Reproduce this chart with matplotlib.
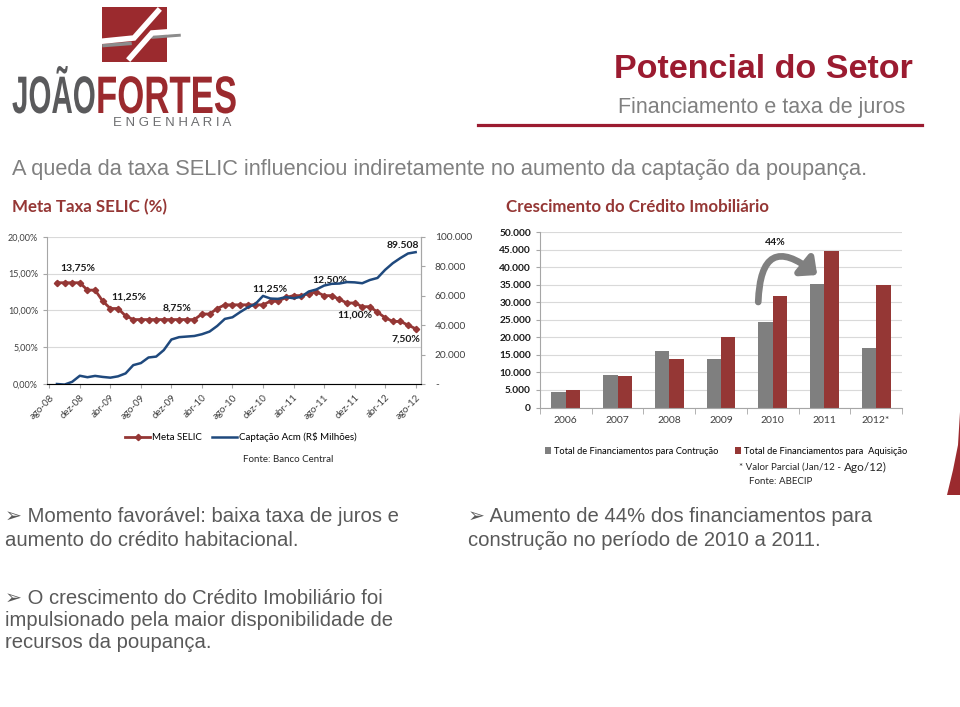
import numpy as np
import matplotlib
matplotlib.use("Agg")
import matplotlib.pyplot as plt
from matplotlib.lines import Line2D
from matplotlib.patches import Rectangle, Polygon
from matplotlib.patheffects import AbstractPathEffect
from matplotlib.transforms import Affine2D
from matplotlib.ticker import FuncFormatter

# ---------- Data ---------- #
tick_labels = ['ago-08', 'dez-08', 'abr-09', 'ago-09', 'dez-09', 'abr-10', 'ago-10',
               'dez-10', 'abr-11', 'ago-11', 'dez-11', 'abr-12', 'ago-12']
months = np.arange(1, 49)   # set-08 ... ago-12 (0 = ago-08)

selic = [13.75, 13.75, 13.75, 13.75, 12.75, 12.75, 11.25, 10.25, 10.25, 9.25,
         8.75, 8.75, 8.75, 8.75, 8.75, 8.75, 8.75, 8.75, 8.75, 9.50,
         9.50, 10.25, 10.75, 10.75, 10.75, 10.75, 10.75, 10.75, 11.25, 11.25,
         11.75, 12.00, 12.00, 12.25, 12.50, 12.00, 12.00, 11.50, 11.00, 11.00,
         10.50, 10.50, 9.75, 9.00, 8.50, 8.50, 8.00, 7.50]

captacao = [0, -400, 1500, 5600, 4600, 5500, 4800, 4300, 5200, 7200,
            12800, 14200, 18000, 18600, 23000, 30200, 31800, 32200, 32600, 33800,
            35600, 39400, 44200, 45300, 48800, 52000, 54300, 59800, 58000, 57800,
            59000, 58200, 59200, 62800, 64200, 66800, 68000, 68200, 69200, 69000,
            68400, 70600, 72000, 77500, 82000, 85500, 88600, 89508]

selic_labels = ['13,75%', '11,25%', '8,75%', '11,25%', '12,50%', '11,00%', '7,50%', '89.508']

anos = ['2006', '2007', '2008', '2009', '2010', '2011', '2012*']
construcao = [4400, 9200, 16200, 13800, 24500, 35300, 16900]
aquisicao = [4900, 8900, 13800, 20100, 31800, 44800, 34900]

# ---------- Styles ---------- #
W, H = 960, 707
RED = '#953735'
BLUE = '#1F497D'
GRAY = '#7F7F7F'
CRIMSON = '#9B1B30'
plt.rcParams['font.family'] = ['Lato', 'DejaVu Sans']
SANS = ['Liberation Sans', 'DejaVu Sans']


def fx(x):
    return x / W


def fy(y):
    return 1 - y / H


class Stretch(AbstractPathEffect):
    """Scale the glyphs of a text around its origin (logo lettering)"""
    def __init__(self, sx, sy):
        super().__init__()
        self.sx, self.sy = sx, sy

    def draw_path(self, renderer, gc, tpath, affine, rgbFace=None):
        m = affine.get_matrix()
        tx, ty = m[0, 2], m[1, 2]
        aff = affine + Affine2D().translate(-tx, -ty).scale(self.sx, self.sy).translate(tx, ty)
        renderer.draw_path(gc, tpath, aff, rgbFace)


fig = plt.figure(figsize=(9.6, 7.07), dpi=100)

# ---------- Logo ---------- #
fig.add_artist(Rectangle((fx(102), fy(62)), 65 / W, 55 / H, transform=fig.transFigure,
                         color='#9B2A2E', lw=0))
for xs, ys, c, w in [([104, 130], [45.5, 43.5], '#8C8C8C', 2.5), ([153, 179], [37, 35], '#8C8C8C', 2.5),
                     ([158, 134, 104], [11, 38, 41], 'white', 4), ([179, 152, 130], [31, 33, 58], 'white', 4)]:
    fig.add_artist(Line2D([fx(v) for v in xs], [fy(v) for v in ys], lw=w, color=c,
                          transform=fig.transFigure, solid_joinstyle='miter'))
t = fig.text(fx(12), fy(113), 'JOÃO', fontsize=8, weight='bold', color='#5A5A5C', family=SANS)
t.set_path_effects([Stretch(2.66, 4.75)])
t = fig.text(fx(96), fy(113), 'FORTES', fontsize=8, weight='bold', color='#9B2A2E', family=SANS)
t.set_path_effects([Stretch(3.13, 4.75)])
fig.text(fx(172), fy(123.5), 'E N G E N H A R I A', fontsize=9.5, color='#6D6E70', family=SANS,
         ha='center', va='center')

# ---------- Header ---------- #
fig.text(fx(913), fy(69), 'Potencial do Setor', fontsize=24.5, weight='bold', color=CRIMSON,
         family=SANS, ha='right', va='center')
fig.text(fx(905), fy(108), 'Financiamento e taxa de juros', fontsize=15.5, color='#808080',
         family=SANS, ha='right', va='center')
fig.add_artist(Line2D([fx(478), fx(922)], [fy(125), fy(125)], lw=2.3, color=CRIMSON,
                      transform=fig.transFigure))
fig.text(fx(12), fy(170), 'A queda da taxa SELIC influenciou indiretamente no aumento da captação da poupança.',
         fontsize=15.7, color='#808080', family=SANS, va='center')

# ---------- Left chart: SELIC ---------- #
fig.text(fx(12), fy(207), 'Meta Taxa SELIC (%)', fontsize=12.2, weight='bold', color=RED, va='center')

ax1 = fig.add_axes([fx(47), fy(384), 374 / W, 147.3 / H])
ax1.set_xlim(-0.3, 48.7)
ax1.set_ylim(0, 20)
ax1.set_yticks([0, 5, 10, 15, 20])
ax1.yaxis.set_major_formatter(FuncFormatter(lambda v, p: f'{v:.2f}%'.replace('.', ',')))
ax1.set_xticks(np.arange(0, 49, 4))
ax1.set_xticklabels(tick_labels, rotation=45, ha='right', rotation_mode='anchor')
ax1.grid(axis='y', color='#D9D9D9', lw=0.8)
ax1.set_axisbelow(True)
for s in ['left', 'bottom', 'right']:
    ax1.spines[s].set_color('#A6A6A6')
ax1.spines['top'].set_visible(False)
ax1.tick_params(axis='both', colors='#A6A6A6', length=3, labelcolor='#404040', labelsize=6.5)
ax1.tick_params(axis='x', labelsize=7)
l1, = ax1.plot(months, selic, color=RED, lw=2, marker='D', ms=3.2, label='Meta SELIC')

ax2 = ax1.twinx()
ax2.set_ylim(0, 100000)
ax2.set_yticks(np.arange(0, 100001, 20000))
ax2.yaxis.set_major_formatter(FuncFormatter(lambda v, p: '-' if v == 0 else f'{v:,.0f}'.replace(',', '.')))
ax2.spines['top'].set_visible(False)
ax2.spines['right'].set_color('#A6A6A6')
ax2.spines['left'].set_visible(False)
ax2.tick_params(axis='y', colors='#A6A6A6', length=3, labelcolor='#404040', labelsize=7.3, pad=7)
l2, = ax2.plot(months, captacao, color=BLUE, lw=1.8, label='Captação Acm (R$ Milhões)')

label_pos = [(3.76, 15.75), (10.44, 11.81), (16.73, 10.32), (28.9, 12.9),
             (36.78, 14.12), (40.05, 9.37), (46.73, 6.11), (46.34, 18.87)]
for txt, (x, y) in zip(selic_labels, label_pos):
    ax1.text(x, y, txt, fontsize=7.5, weight='bold', color='#1A1A1A', ha='center', va='center',
             zorder=5)

fig.legend(handles=[l1, l2], loc='center', bbox_to_anchor=(fx(241), fy(437)), ncol=2,
           frameon=False, fontsize=7, handlelength=2.6, columnspacing=1.0, handletextpad=0.2)
fig.text(fx(288), fy(459), 'Fonte: Banco Central', fontsize=7, color='#262626', ha='center', va='center')

# ---------- Right chart: Credito Imobiliario ---------- #
fig.text(fx(506), fy(207), 'Crescimento do Crédito Imobiliário', fontsize=12.2, weight='bold',
         color=RED, va='center')

ax3 = fig.add_axes([fx(540), fy(407.5), 362 / W, 175.2 / H])
x = np.arange(len(anos))
bw = 0.28
ax3.bar(x - bw / 2, construcao, bw, color=GRAY, label='Total de Financiamentos para Contrução')
ax3.bar(x + bw / 2, aquisicao, bw, color=RED, label='Total de Financiamentos para  Aquisição')
ax3.set_xlim(-0.5, 6.5)
ax3.set_ylim(0, 50000)
ax3.set_yticks(np.arange(0, 50001, 5000))
ax3.yaxis.set_major_formatter(FuncFormatter(lambda v, p: f'{v:,.0f}'.replace(',', '.')))
ax3.set_xticks(x)
ax3.set_xticklabels(anos)
ax3.set_xticks(np.arange(-0.5, 7, 1), minor=True)
ax3.tick_params(axis='x', which='major', length=0, labelsize=7.5, labelcolor='#404040', pad=6)
ax3.tick_params(axis='x', which='minor', length=4, color='#A6A6A6')
ax3.tick_params(axis='y', length=3, color='#A6A6A6', labelsize=7.3, labelcolor='#1A1A1A')
for lab in ax3.get_yticklabels():
    lab.set_fontweight('bold')
ax3.grid(axis='y', color='#D9D9D9', lw=0.8)
ax3.set_axisbelow(True)
for s in ['top', 'right']:
    ax3.spines[s].set_visible(False)
for s in ['left', 'bottom']:
    ax3.spines[s].set_color('#A6A6A6')

ax3.text(4.04, 46950, '44%', fontsize=7.5, weight='bold', color='#1A1A1A', ha='center', va='center')
ax3.annotate('', xy=(4.86, 37800), xytext=(3.72, 30100),
             arrowprops=dict(arrowstyle='-|>,head_length=0.6,head_width=0.55', lw=4.8, color='#808080',
                             connectionstyle='arc3,rad=-1.0', shrinkA=0, shrinkB=0, mutation_scale=14))

ax3.legend(loc='center', bbox_to_anchor=(fx(726), fy(451)), bbox_transform=fig.transFigure,
           ncol=2, frameon=False, fontsize=6.7, handlelength=0.7, handleheight=0.7,
           handletextpad=0.3, columnspacing=1.8)
t1 = fig.text(fx(739), fy(467), '* Valor Parcial (Jan/12 - ', fontsize=7, color='#262626', va='center')
ax3.annotate('Ago/12)', xy=(1, 0.5), xycoords=t1, fontsize=8.5, color='#262626', va='center')
fig.text(fx(749), fy(481), 'Fonte: ABECIP', fontsize=7, color='#262626', va='center')

# decorative wedge at the right edge
fig.add_artist(Polygon([(fx(960), fy(412)), (fx(958), fy(445)), (fx(953), fy(470)),
                        (fx(947), fy(495)), (fx(960), fy(495))], closed=True,
                       transform=fig.transFigure, color='#9B2A2E', lw=0))

# ---------- Bullets ---------- #
TXT = '#595959'
bullets = [(5, 517, '➢ Momento favorável: baixa taxa de juros e'),
           (5, 540, 'aumento do crédito habitacional.'),
           (468, 517, '➢ Aumento de 44% dos financiamentos para'),
           (468, 540, 'construção no período de 2010 a 2011.'),
           (5, 599, '➢ O crescimento do Crédito Imobiliário foi'),
           (5, 621, 'impulsionado pela maior disponibilidade de'),
           (5, 643, 'recursos da poupança.')]
for bx, by, s in bullets:
    fig.text(fx(bx), fy(by), s, fontsize=14.6, color=TXT, family=SANS, va='center')

plt.savefig('out.png', dpi=100)
